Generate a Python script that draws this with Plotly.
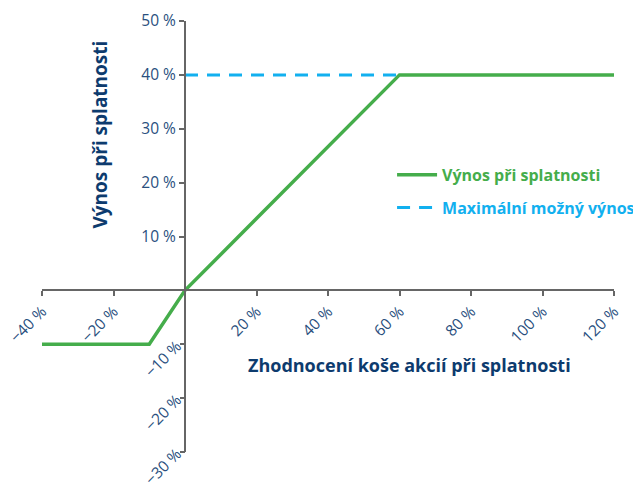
import plotly.graph_objects as go

# Data
green_x = [-40, -10, 0, 60, 120]
green_y = [-10, -10, 0, 40, 40]
cap_x = [0, 60]
cap_y = [40, 40]

x_ticks = [-40, -20, 0, 20, 40, 60, 80, 100, 120]
x_ticklabels = ["\u221240 %", "\u221220 %", "", "20 %", "40 %", "60 %", "80 %", "100 %", "120 %"]
y_pos_ticks = [0, 10, 20, 30, 40, 50]
y_pos_labels = ["", "10 %", "20 %", "30 %", "40 %", "50 %"]
y_neg_ticks = [-30, -20, -10]
y_neg_labels = ["\u221230 %", "\u221220 %", "\u221210 %"]

GREEN = "#45ad4b"
BLUE = "#12b0ef"
NAVY = "#0d3b6e"
TICKC = "#2a4f7e"
AXC = "#666666"
FONT = "Open Sans"

XR = [-40, 120]
YR = [-30, 50]
x0frac = (0 - XR[0]) / (XR[1] - XR[0])
y0frac = (0 - YR[0]) / (YR[1] - YR[0])

fig = go.Figure()
fig.add_trace(go.Scatter(
    x=green_x, y=green_y, mode="lines", legendgroup="g1",
    line=dict(color=GREEN, width=3.5),
    name=f"<b><span style='color:{GREEN}'>Výnos při splatnosti</span></b>",
))
fig.add_trace(go.Scatter(
    x=cap_x, y=cap_y, mode="lines", legendgroup="g2",
    line=dict(color=BLUE, width=3, dash="13px,9px"),
    name=f"<b><span style='color:{BLUE}'>Maximální možný výnos</span></b>",
))
# helper trace for the rotated negative y labels
fig.add_trace(go.Scatter(x=[None], y=[None], yaxis="y2", showlegend=False))

tickfont = dict(family=FONT, size=15.5, color=TICKC)

fig.update_layout(
    width=641, height=482,
    margin=dict(l=34, r=35, t=13, b=38, autoexpand=False),
    paper_bgcolor="white", plot_bgcolor="white",
    font=dict(family=FONT, size=14, color=TICKC),
    xaxis=dict(
        range=XR, anchor="free", position=y0frac, automargin=False,
        showgrid=False, zeroline=False,
        showline=True, linecolor=AXC, linewidth=2,
        ticks="outside", ticklen=5, tickwidth=1.5, tickcolor=AXC,
        tickvals=x_ticks, ticktext=x_ticklabels, tickangle=-45,
        tickfont=tickfont, ticklabeloverflow="allow",
    ),
    yaxis=dict(
        range=YR, anchor="free", position=x0frac, automargin=False,
        showgrid=False, zeroline=False,
        showline=True, linecolor=AXC, linewidth=2,
        ticks="outside", ticklen=5, tickwidth=1.5, tickcolor=AXC,
        tickvals=y_pos_ticks, ticktext=y_pos_labels,
        tickfont=tickfont, ticklabeloverflow="allow",
    ),
    yaxis2=dict(
        range=YR, anchor="free", position=x0frac,
        overlaying="y", automargin=False,
        showgrid=False, zeroline=False, showline=False,
        ticks="outside", ticklen=5, tickwidth=1.5, tickcolor=AXC,
        tickvals=y_neg_ticks, ticktext=y_neg_labels, tickangle=-45,
        tickfont=tickfont, ticklabeloverflow="allow",
    ),
    legend=dict(
        x=0.612, y=0.605, xanchor="left", yanchor="middle",
        bgcolor="rgba(0,0,0,0)", font=dict(family=FONT, size=16),
        tracegroupgap=9, itemwidth=40,
    ),
    showlegend=True,
)

fig.add_annotation(
    text="<b>Zhodnocení koše akcií při splatnosti</b>",
    xref="paper", yref="paper", x=0.643, y=0.202,
    xanchor="center", yanchor="middle", showarrow=False,
    font=dict(family=FONT, size=18, color=NAVY),
)
fig.add_annotation(
    text="<b>Výnos při splatnosti</b>",
    xref="paper", yref="paper", x=0.101, y=0.736,
    xanchor="center", yanchor="middle", showarrow=False, textangle=-90,
    font=dict(family=FONT, size=19, color=NAVY),
)

fig.write_html("out.html")
